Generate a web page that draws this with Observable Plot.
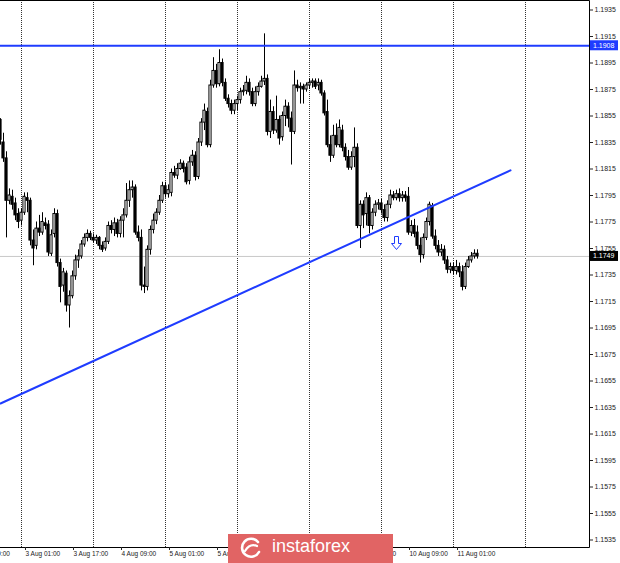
<!DOCTYPE html>
<html>
<head>
<meta charset="utf-8">
<script src="https://cdn.jsdelivr.net/npm/d3@7"></script>
<script src="https://cdn.jsdelivr.net/npm/@observablehq/plot@0.6"></script>
<style>
html, body { margin: 0; padding: 0; background: #fff; }
#wrap { position: relative; width: 620px; height: 563px; overflow: hidden; }
#logo { position: absolute; left: 228px; top: 534px; width: 165px; height: 29px; background: #e16464; }
#logo svg { position: absolute; left: 0; top: 0; }
#logo span { position: absolute; left: 44px; top: 2px; font-family: 'Liberation Sans', Arial, sans-serif; font-size: 18px; color: #fff; }
</style>
</head>
<body>
<div id="wrap"></div>
<script>
// ---- EURUSD H1 candles (bar index 0 = 3 Aug 00:00) ----
const firstBar = -7;
const open = [
1.1852,1.1835,1.1823,1.1791,1.1794,1.1789,1.1781,1.1776,1.1782,1.1793,
1.1791,1.1761,1.1757,1.1770,1.1767,1.1774,1.1773,1.1751,1.1766,1.1781,
1.1744,1.1727,1.1736,1.1712,1.1719,1.1734,1.1746,1.1749,1.1758,1.1763,
1.1766,1.1763,1.1761,1.1763,1.1757,1.1755,1.1760,1.1772,1.1769,1.1774,
1.1766,1.1776,1.1780,1.1791,1.1799,1.1801,1.1767,1.1763,1.1727,1.1726,
1.1754,1.1769,1.1776,1.1782,1.1791,1.1802,1.1796,1.1797,1.1812,1.1810,
1.1815,1.1819,1.1816,1.1806,1.1820,1.1825,1.1809,1.1835,1.1850,1.1858,
1.1833,1.1878,1.1889,1.1879,1.1895,1.1880,1.1868,1.1864,1.1859,1.1864,
1.1867,1.1873,1.1874,1.1880,1.1873,1.1864,1.1873,1.1877,1.1881,1.1883,
1.1843,1.1858,1.1844,1.1852,1.1839,1.1855,1.1862,1.1853,1.1843,1.1878,
1.1876,1.1877,1.1875,1.1878,1.1880,1.1881,1.1878,1.1880,1.1872,1.1858,
1.1833,1.1825,1.1840,1.1833,1.1844,1.1831,1.1824,1.1816,1.1824,1.1831,
1.1772,1.1788,1.1781,1.1793,1.1772,1.1782,1.1788,1.1789,1.1784,1.1778,
1.1788,1.1795,1.1793,1.1796,1.1793,1.1795,1.1794,1.1767,1.1772,1.1767,
1.1757,1.1750,1.1763,1.1775,1.1787,1.1764,1.1757,1.1752,1.1754,1.1746,
1.1739,1.1741,1.1738,1.1741,1.1737,1.1726,1.1741,1.1746,1.1749,1.1751
];
const high = [
1.1853,1.1842,1.1828,1.1800,1.1799,1.1793,1.1785,1.1785,1.1797,1.1797,
1.1793,1.1769,1.1775,1.1780,1.1782,1.1778,1.1776,1.1769,1.1785,1.1784,
1.1747,1.1740,1.1738,1.1723,1.1738,1.1750,1.1754,1.1761,1.1766,1.1769,
1.1768,1.1766,1.1765,1.1764,1.1760,1.1763,1.1775,1.1776,1.1778,1.1777,
1.1779,1.1785,1.1804,1.1806,1.1806,1.1803,1.1772,1.1769,1.1741,1.1757,
1.1772,1.1781,1.1785,1.1795,1.1805,1.1805,1.1803,1.1815,1.1817,1.1819,
1.1822,1.1821,1.1819,1.1824,1.1829,1.1828,1.1838,1.1853,1.1864,1.1861,
1.1882,1.1899,1.1894,1.1905,1.1898,1.1883,1.1871,1.1867,1.1867,1.1870,
1.1876,1.1878,1.1885,1.1883,1.1876,1.1877,1.1880,1.1885,1.1917,1.1886,
1.1867,1.1862,1.1870,1.1855,1.1858,1.1867,1.1865,1.1858,1.1889,1.1882,
1.1880,1.1879,1.1880,1.1883,1.1883,1.1883,1.1883,1.1882,1.1874,1.1867,
1.1840,1.1848,1.1849,1.1852,1.1848,1.1834,1.1829,1.1828,1.1846,1.1834,
1.1791,1.1791,1.1797,1.1795,1.1785,1.1791,1.1792,1.1792,1.1788,1.1791,
1.1799,1.1798,1.1799,1.1800,1.1798,1.1798,1.1801,1.1776,1.1777,1.1772,
1.1763,1.1766,1.1778,1.1790,1.1789,1.1769,1.1761,1.1758,1.1757,1.1749,
1.1744,1.1744,1.1746,1.1744,1.1742,1.1744,1.1749,1.1752,1.1754,1.1754
];
const low = [
1.1833,1.1820,1.1763,1.1788,1.1784,1.1776,1.1770,1.1772,1.1780,1.1782,
1.1757,1.1742,1.1754,1.1764,1.1765,1.1769,1.1749,1.1749,1.1763,1.1741,
1.1714,1.1722,1.1707,1.1695,1.1717,1.1731,1.1740,1.1747,1.1756,1.1760,
1.1761,1.1759,1.1758,1.1754,1.1752,1.1753,1.1758,1.1766,1.1764,1.1763,
1.1763,1.1763,1.1778,1.1786,1.1793,1.1765,1.1760,1.1723,1.1721,1.1723,
1.1750,1.1766,1.1773,1.1780,1.1789,1.1793,1.1793,1.1794,1.1808,1.1807,
1.1814,1.1812,1.1803,1.1803,1.1817,1.1806,1.1807,1.1832,1.1844,1.1831,
1.1831,1.1876,1.1876,1.1877,1.1877,1.1866,1.1861,1.1856,1.1856,1.1859,
1.1864,1.1870,1.1871,1.1870,1.1862,1.1862,1.1870,1.1876,1.1878,1.1840,
1.1838,1.1841,1.1842,1.1833,1.1836,1.1847,1.1846,1.1818,1.1841,1.1873,
1.1864,1.1864,1.1873,1.1875,1.1876,1.1875,1.1874,1.1870,1.1855,1.1831,
1.1820,1.1823,1.1831,1.1831,1.1828,1.1821,1.1814,1.1814,1.1816,1.1770,
1.1755,1.1770,1.1772,1.1766,1.1769,1.1779,1.1784,1.1781,1.1775,1.1775,
1.1785,1.1791,1.1791,1.1790,1.1790,1.1790,1.1765,1.1764,1.1763,1.1754,
1.1744,1.1747,1.1761,1.1772,1.1762,1.1754,1.1749,1.1749,1.1743,1.1736,
1.1736,1.1735,1.1735,1.1733,1.1723,1.1724,1.1740,1.1744,1.1747,1.1747
];
const close = [
1.1837,1.1823,1.1791,1.1795,1.1788,1.1780,1.1775,1.1782,1.1794,1.1791,
1.1761,1.1755,1.1770,1.1767,1.1775,1.1772,1.1752,1.1765,1.1781,1.1744,
1.1726,1.1737,1.1712,1.1719,1.1734,1.1746,1.1749,1.1758,1.1763,1.1766,
1.1763,1.1761,1.1763,1.1757,1.1754,1.1760,1.1772,1.1769,1.1774,1.1766,
1.1776,1.1780,1.1791,1.1799,1.1801,1.1767,1.1763,1.1727,1.1726,1.1754,
1.1769,1.1776,1.1782,1.1791,1.1802,1.1796,1.1799,1.1812,1.1810,1.1815,
1.1819,1.1815,1.1805,1.1820,1.1825,1.1809,1.1835,1.1850,1.1859,1.1833,
1.1878,1.1889,1.1879,1.1895,1.1880,1.1868,1.1864,1.1859,1.1864,1.1867,
1.1873,1.1874,1.1880,1.1873,1.1864,1.1873,1.1877,1.1881,1.1883,1.1843,
1.1858,1.1844,1.1852,1.1838,1.1855,1.1862,1.1853,1.1843,1.1878,1.1876,
1.1877,1.1875,1.1878,1.1880,1.1881,1.1877,1.1880,1.1872,1.1857,1.1833,
1.1825,1.1840,1.1833,1.1846,1.1831,1.1824,1.1816,1.1824,1.1831,1.1772,
1.1788,1.1780,1.1793,1.1772,1.1782,1.1788,1.1789,1.1784,1.1778,1.1788,
1.1795,1.1793,1.1796,1.1793,1.1795,1.1793,1.1767,1.1772,1.1766,1.1757,
1.1750,1.1763,1.1775,1.1788,1.1764,1.1757,1.1752,1.1754,1.1746,1.1739,
1.1741,1.1738,1.1741,1.1737,1.1726,1.1741,1.1746,1.1749,1.1751,1.1749
];

// ---- reference lines and annotations ----
const resistanceLevel = 1.1908;
const lastPrice = 1.1749;
const trendLine = [ {bar: -7, price: 1.1638}, {bar: 163, price: 1.1814} ];
const arrowAt = {bar: 125, price: 1.1764};

// ---- axes ----
const dayStartBars = [0, 24, 48, 72, 96, 120, 144, 168];
const xTickBars = [-16, 1, 17, 33, 49, 65, 81, 97, 113, 129, 145];
const xTickLabels = ["31 Jul 09:00", "3 Aug 01:00", "3 Aug 17:00", "4 Aug 09:00", "5 Aug 01:00", "5 Aug 17:00",
                     "6 Aug 09:00", "7 Aug 01:00", "7 Aug 17:00", "10 Aug 09:00", "11 Aug 01:00"];
const yTicks = [1.1535, 1.1555, 1.1575, 1.1595, 1.1615, 1.1635, 1.1655, 1.1675, 1.1695, 1.1715, 1.1735,
                1.1755, 1.1775, 1.1795, 1.1815, 1.1835, 1.1855, 1.1875, 1.1895, 1.1915, 1.1935];

const BLUE = "#1f3cff";
const bars = open.map((o, k) => ({bar: firstBar + k, o, h: high[k], l: low[k], c: close[k]}));
const xLabel = new Map(xTickBars.map((b, k) => [b, xTickLabels[k]]));

function border(index, scales, values, dim) {
  const g = d3.create("svg:g").attr("fill", "none").attr("stroke", "#000");
  const r = dim.width - dim.marginRight + 0.5, b = dim.height - dim.marginBottom + 0.5;
  g.append("path").attr("d", `M0,0.5H${r}V${b}H0`);
  return g.node();
}
function priceBox(value, color) {
  return (index, scales, values, dim) => {
    const y = scales.y(value);
    const x0 = dim.width - dim.marginRight + 1;
    const g = d3.create("svg:g");
    g.append("rect").attr("x", x0).attr("y", y - 5).attr("width", 28).attr("height", 10).attr("fill", color);
    g.append("text").attr("x", x0 + 3).attr("y", y).attr("dy", "0.35em").attr("fill", "#fff")
      .attr("text-anchor", "start").attr("font-size", 7).text(value.toFixed(4));
    return g.node();
  };
}
function arrowMark(index, scales) {
  const x = Math.round(scales.x(arrowAt.bar)) + 0.5, y = Math.round(scales.y(arrowAt.price)) + 0.5;
  return d3.create("svg:path")
    .attr("d", `M${x-2},${y}H${x+2}V${y+7}H${x+5}L${x},${y+13}L${x-5},${y+7}H${x-2}Z`)
    .attr("fill", "#fff").attr("stroke", BLUE).attr("stroke-width", 1).node();
}

const chart = Plot.plot({
  width: 620, height: 563,
  marginLeft: 0, marginRight: 31, marginTop: 0, marginBottom: 16,
  x: {domain: [-7, 189.33], axis: null},
  y: {domain: [1.152934, 1.194217], axis: null},
  style: {background: "#fff", fontFamily: "'Liberation Sans', Arial, sans-serif", fontSize: "7px", color: "#222"},
  marks: [
    Plot.ruleX(dayStartBars, {x: d => d, stroke: "#333", strokeDasharray: "1,1"}),
    Plot.ruleY([lastPrice], {y: d => d, stroke: "#c8c8c8"}),
    Plot.ruleX(bars, {x: "bar", y1: "l", y2: "h", stroke: "#000"}),
    Plot.rect(bars, {x1: d => d.bar - 0.36, x2: d => d.bar + 0.36, y1: "o", y2: "c",
      fill: d => d.c >= d.o ? "#fff" : "#000", stroke: "#000", strokeWidth: 1}),
    Plot.ruleY([resistanceLevel], {y: d => d, stroke: BLUE, strokeWidth: 2}),
    Plot.line(trendLine, {x: "bar", y: "price", stroke: BLUE, strokeWidth: 2}),
    arrowMark,
    border,
    Plot.axisY(yTicks, {anchor: "right", label: null, tickSize: 3, tickPadding: 2, tickFormat: d => d.toFixed(4), fontSize: 7}),
    Plot.axisX(xTickBars, {anchor: "bottom", label: null, tickSize: 3, tickPadding: 1, textAnchor: "start", dx: 1,
      tickFormat: d => xLabel.get(d), fontSize: 6.5}),
    priceBox(resistanceLevel, BLUE),
    priceBox(lastPrice, "#000")
  ]
});
const wrap = document.getElementById("wrap");
wrap.appendChild(chart);
const logo = document.createElement("div");
logo.id = "logo";
logo.innerHTML = `<svg width="40" height="29" viewBox="0 0 40 29">
  <path d="M30,8 A9,9 0 1 0 31,18" fill="none" stroke="#fff" stroke-width="2.6" stroke-linecap="round"/>
  <path d="M17,17 Q22,9 29,12" fill="none" stroke="#fff" stroke-width="2.2" stroke-linecap="round"/>
</svg><span>instaforex</span>`;
wrap.appendChild(logo);
</script>
</body>
</html>
